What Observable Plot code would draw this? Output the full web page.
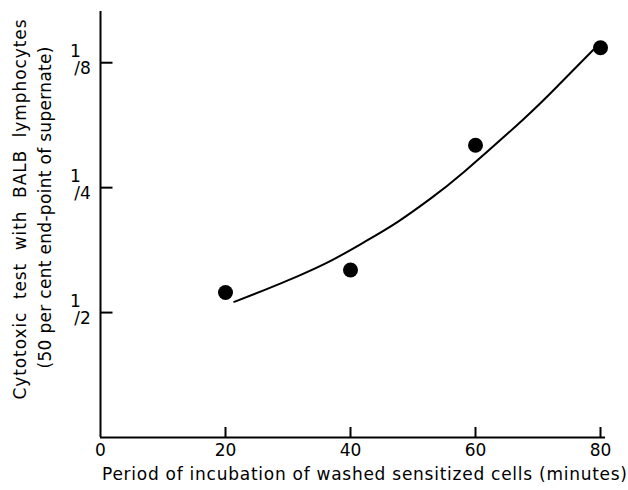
<!DOCTYPE html>
<html><head><meta charset="utf-8">
<script src="https://cdn.jsdelivr.net/npm/d3@7"></script>
<script src="https://cdn.jsdelivr.net/npm/@observablehq/plot@0.6"></script>
<style>
body{margin:0;background:#fff}
</style></head><body><div id="chart"></div>
<script>
// Period of incubation (minutes) and reciprocal of 50% end-point dilution
const minutes = [20, 40, 60, 80];
const reciprocalTiter = [2.235, 2.532, 5.063, 8.694];
// fitted curve as drawn in the figure
const curveMinutes = [21.4, 26.2, 31.6, 36.9, 42.2, 47.5, 52.8, 58.2, 67.5, 73.1, 78.9];
const curveTiter = [2.123, 2.266, 2.449, 2.668, 2.957, 3.304, 3.763, 4.371, 5.816, 7.02, 8.610];
const xTicks = [0, 20, 40, 60, 80];
const yTicks = [2, 4, 8];
const yTickDenominators = ["2", "4", "8"];
const xLabel = "Period of incubation of washed sensitized cells (minutes)";
const yLabel1 = "Cytotoxic  test  with  BALB  lymphocytes";
const yLabel2 = "(50 per cent end-point of supernate)";

const points = minutes.map((m, i) => ({m, t: reciprocalTiter[i]}));
const curve = curveMinutes.map((m, i) => ({m, t: curveTiter[i]}));
const yMax = 10.63;

const chart = Plot.plot({
  width: 628, height: 490,
  marginLeft: 100, marginRight: 28, marginTop: 11, marginBottom: 53,
  style: {fontFamily: "DejaVu Sans", fontSize: "16px", color: "#000", background: "#fff"},
  x: {domain: [0, 80], axis: null},
  y: {type: "log", base: 2, domain: [1, yMax], axis: null},
  marks: [
    Plot.ruleX([0], {y1: 1, y2: yMax, strokeWidth: 2}),
    Plot.ruleY([1], {x1: 0, x2: 80.8, strokeWidth: 2}),
    Plot.ruleX(xTicks.slice(1), {x: d => d, y1: 1, y2: 1.057, strokeWidth: 2}),
    Plot.ruleY(yTicks, {y: d => d, x1: 0, x2: 2, strokeWidth: 2}),
    Plot.axisX(xTicks, {tickSize: 0, tickPadding: 6, fontSize: 17, label: null}),
    Plot.text(yTicks, {y: d => d, frameAnchor: "left", text: () => "1", textAnchor: "middle", dx: -25, dy: -11, fontSize: 17}),
    Plot.text(yTicks, {y: d => d, frameAnchor: "left", text: (d, i) => "/" + yTickDenominators[i], textAnchor: "middle", dx: -18, dy: 6, fontSize: 17}),
    Plot.text([yLabel1], {frameAnchor: "left", rotate: -90, textAnchor: "middle", dx: -80, dy: -15, fontSize: 17}),
    Plot.text([yLabel2], {frameAnchor: "left", rotate: -90, textAnchor: "middle", dx: -55, dy: -17, fontSize: 17}),
    Plot.text([xLabel], {frameAnchor: "bottom", textAnchor: "middle", dx: 14, dy: 42, fontSize: 17}),
    Plot.line(curve, {x: "m", y: "t", curve: "natural", strokeWidth: 2, stroke: "#000"}),
    Plot.dot(points, {x: "m", y: "t", r: 7.5, fill: "#000", stroke: "none"})
  ]
});
const lengths = new Map([[xLabel, 525], [yLabel1, 380], [yLabel2, 322]]);
d3.select(chart).selectAll("text").each(function() {
  const L = lengths.get(this.textContent);
  if (L) { this.setAttribute("textLength", L); this.setAttribute("lengthAdjust", "spacing"); }
});
document.getElementById("chart").append(chart);
</script></body></html>
